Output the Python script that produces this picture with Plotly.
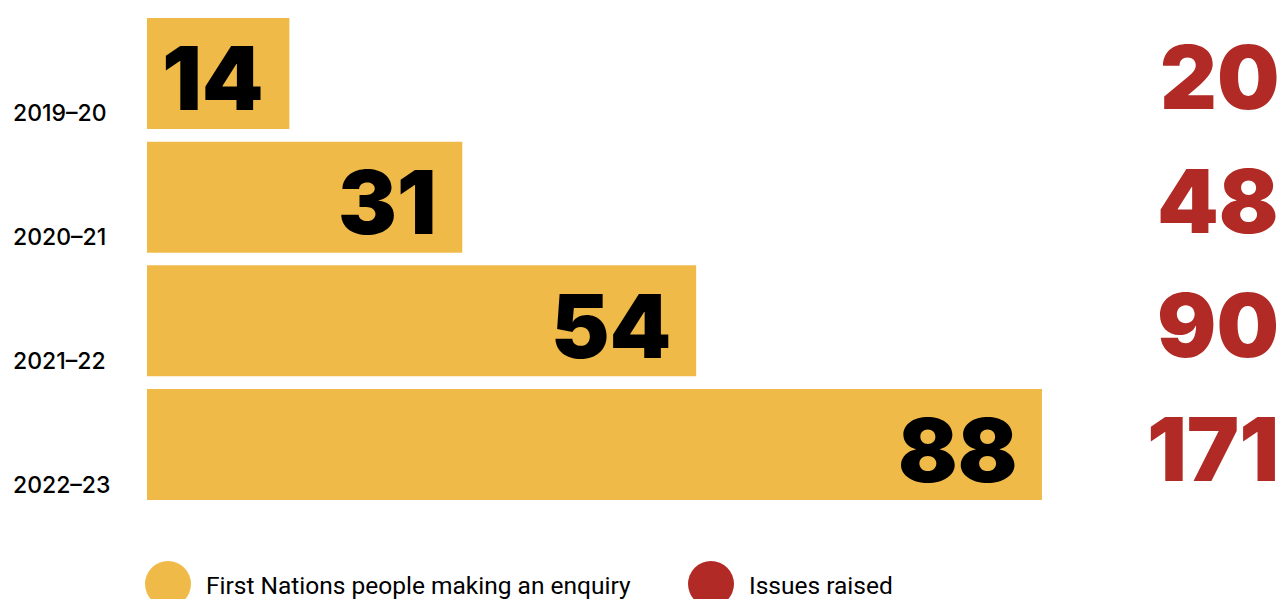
import plotly.graph_objects as go

years = ["2019–20", "2020–21", "2021–22", "2022–23"]
enquiries = [14, 31, 54, 88]
issues = [20, 48, 90, 171]
legend_labels = ["First Nations people making an enquiry", "Issues raised"]

YELLOW = "#F0BA48"
RED = "#B22A25"
W, H = 1281, 599

fig = go.Figure()
fig.add_trace(go.Bar(
    x=enquiries, y=years, orientation="h",
    marker=dict(color=YELLOW, line=dict(width=0)),
    hoverinfo="skip", showlegend=False,
))

ann = []
for y, v in zip(years, enquiries):
    ann.append(dict(x=v, y=y, xref="x", yref="y", text=str(v), showarrow=False,
                    xanchor="right", yanchor="middle", xshift=-23, yshift=-5,
                    font=dict(family="Inter", size=88, color="black", weight=900)))
for y, v in zip(years, issues):
    ann.append(dict(x=1, y=y, xref="paper", yref="y", text=str(v), showarrow=False,
                    xanchor="right", yanchor="middle", xshift=0, yshift=-4,
                    font=dict(family="Inter", size=88, color=RED, weight=900)))
for y in years:
    ann.append(dict(x=11 / W, y=y, xref="paper", yref="y", text=y, showarrow=False,
                    xanchor="left", yanchor="middle", yshift=-40,
                    font=dict(family="Inter", size=23, color="black", weight=500)))

# legend
legend_x = [168, 711]
legend_colors = [YELLOW, RED]
shapes = []
for lx, lab, col in zip(legend_x, legend_labels, legend_colors):
    shapes.append(dict(type="circle", xref="paper", yref="paper",
                       xsizemode="pixel", ysizemode="pixel",
                       xanchor=lx / W, yanchor=(H - 584) / H,
                       x0=-23, x1=23, y0=-23, y1=23,
                       fillcolor=col, line=dict(width=0)))
    ann.append(dict(x=(lx + 36) / W, y=(H - 585) / H, xref="paper", yref="paper",
                    text=lab, showarrow=False, xanchor="left", yanchor="middle",
                    font=dict(family="Roboto", size=24.5, color="black")))

fig.update_layout(
    width=W, height=H,
    margin=dict(l=0, r=0, t=0, b=0),
    paper_bgcolor="white", plot_bgcolor="white",
    bargap=0.103,
    xaxis=dict(domain=[147 / W, 1], range=[0, 1134 / 10.17], visible=False, fixedrange=True),
    yaxis=dict(domain=[(H - 506.35) / H, (H - 11.65) / H], autorange="reversed",
               visible=False, fixedrange=True),
    annotations=ann, shapes=shapes,
    showlegend=False,
)
fig.write_html("out.html", config={"displayModeBar": False},
               post_script="document.body.style.margin='0';document.body.style.overflow='hidden';")
